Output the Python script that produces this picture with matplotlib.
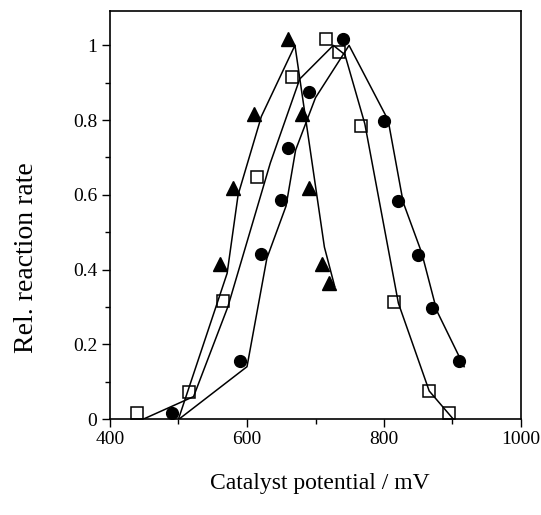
import matplotlib
matplotlib.use("Agg")
import matplotlib.pyplot as plt
from matplotlib.ticker import MultipleLocator, FixedLocator, FixedFormatter

# measured points
triX = [560, 580, 610, 660, 680, 690, 710, 720]
triY = [0.415, 0.617, 0.815, 1.016, 0.815, 0.617, 0.415, 0.365]
sqX = [440, 515, 565, 615, 665, 715, 735, 767, 815, 865, 895]
sqY = [0.015, 0.073, 0.316, 0.647, 0.915, 1.018, 0.982, 0.784, 0.314, 0.075, 0.015]
circX = [490, 590, 620, 650, 660, 690, 740, 800, 820, 850, 870, 910]
circY = [0.015, 0.156, 0.442, 0.585, 0.726, 0.875, 1.016, 0.797, 0.584, 0.44, 0.298, 0.154]

# fitted curves
triLineX = [500, 571, 587, 621, 670, 713, 728]
triLineY = [0, 0.39, 0.60, 0.81, 1.0, 0.46, 0.355]
sqLineX = [449, 522, 572, 634, 677, 726, 743, 772, 821, 866, 901]
sqLineY = [0, 0.06, 0.30, 0.685, 0.91, 1.0, 0.975, 0.79, 0.31, 0.075, 0]
circLineX = [501, 600, 629, 657, 671, 700, 749, 806, 828, 855, 877, 917]
circLineY = [0, 0.14, 0.43, 0.57, 0.72, 0.86, 1.0, 0.80, 0.58, 0.445, 0.29, 0.14]

yTicks = [0, 0.2, 0.4, 0.6, 0.8, 1]
yTickLabels = ["0", "0.2", "0.4", "0.6", "0.8", "1"]
xTicks = [400, 600, 800, 1000]

plt.rcParams['font.family'] = ['Liberation Serif', 'DejaVu Serif']

fig = plt.figure(figsize=(5.41, 5.15), dpi=100)
ax = fig.add_axes([110/541, 96/515, 411/541, 408/515])

ax.plot(triLineX, triLineY, color="black", lw=1.1, zorder=2)
ax.plot(sqLineX, sqLineY, color="black", lw=1.1, zorder=2)
ax.plot(circLineX, circLineY, color="black", lw=1.1, zorder=2)

ax.plot(triX, triY, linestyle="none", marker="^", ms=9.5, color="black", zorder=3)
ax.plot(sqX, sqY, linestyle="none", marker="s", ms=8, markerfacecolor="none",
        markeredgecolor="black", markeredgewidth=1.1, zorder=3)
ax.plot(circX, circY, linestyle="none", marker="o", ms=8.5, color="black", zorder=3)

ax.set_xlim(400, 1000)
ax.set_ylim(0, 1.092)
ax.xaxis.set_major_locator(FixedLocator(xTicks))
ax.xaxis.set_minor_locator(MultipleLocator(100))
ax.yaxis.set_major_locator(FixedLocator(yTicks))
ax.yaxis.set_major_formatter(FixedFormatter(yTickLabels))
ax.yaxis.set_minor_locator(MultipleLocator(0.1))

ax.tick_params(which="major", direction="out", length=6, width=1, labelsize=14, pad=3)
ax.tick_params(which="minor", direction="out", length=3.5, width=1)
for s in ax.spines.values():
    s.set_linewidth(1.2)

fig.text(320/541, 1 - 484/515, "Catalyst potential / mV", fontsize=17, ha="center", va="center")
fig.text(27/541, 1 - 258/515, "Rel. reaction rate", fontsize=20, rotation=90, ha="center", va="center")

plt.savefig("out.png", dpi=100)
